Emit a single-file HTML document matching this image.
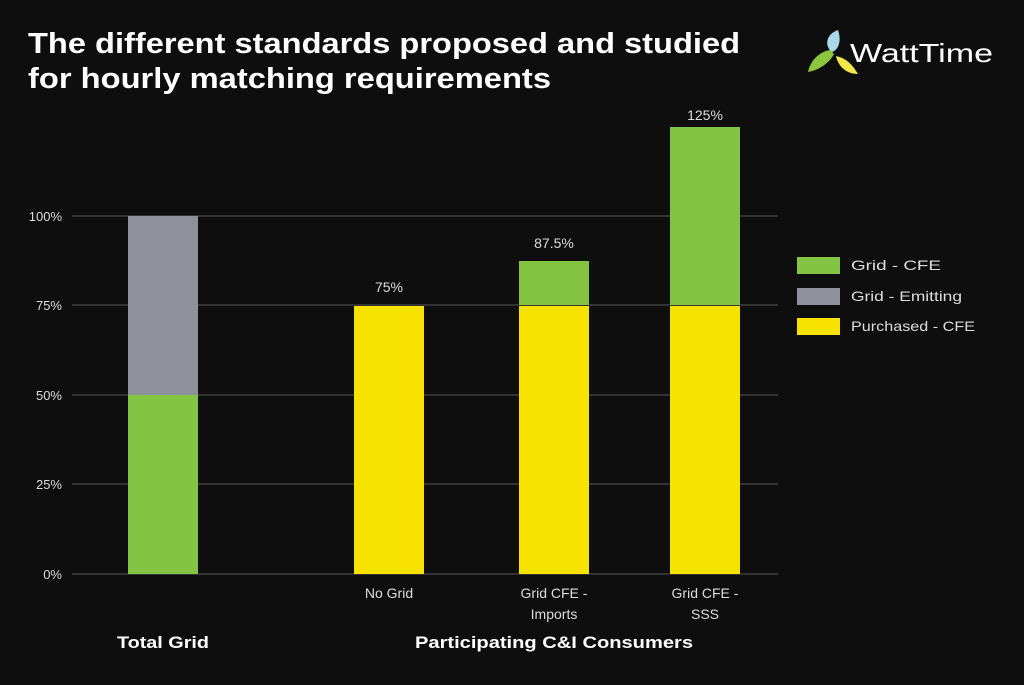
<!DOCTYPE html>
<html><head><meta charset="utf-8"><style>
body{margin:0;background:#0e0e0e;width:1024px;height:680px;overflow:hidden;font-family:"Liberation Sans",sans-serif;}
</style></head><body>
<svg width="1024" height="680" xmlns="http://www.w3.org/2000/svg">
<rect width="1024" height="680" fill="#0e0e0e"/>
<text x="28" y="53" fill="#fff" font-size="29" font-weight="bold" textLength="712" lengthAdjust="spacingAndGlyphs">The different standards proposed and studied</text>
<text x="28" y="88" fill="#fff" font-size="29" font-weight="bold" textLength="523" lengthAdjust="spacingAndGlyphs">for hourly matching requirements</text>
<g>
<path d="M838 30 C826 34 824 46 832 52 C838 50 842 42 838 30Z" fill="#a9d8e8"/>
<path d="M830 50 C818 52 810 62 808 72 C820 70 830 62 834 54Z" fill="#8cc63f"/>
<path d="M836 56 C838 66 846 74 858 74 C852 64 846 58 836 56Z" fill="#f1e64a"/>
<text x="850" y="62" fill="#fff" font-size="26" textLength="143" lengthAdjust="spacingAndGlyphs">WattTime</text>
</g>
<g stroke="#333" stroke-width="2">
<line x1="72" y1="216" x2="778" y2="216"/><line x1="72" y1="305" x2="778" y2="305"/>
<line x1="72" y1="395" x2="778" y2="395"/><line x1="72" y1="484" x2="778" y2="484"/>
<line x1="72" y1="574" x2="778" y2="574"/>
</g>
<g fill="#ddd" font-size="13" text-anchor="end">
<text x="62" y="221">100%</text><text x="62" y="310">75%</text><text x="62" y="400">50%</text><text x="62" y="489">25%</text><text x="62" y="579">0%</text>
</g>
<rect x="128" y="216" width="70" height="179" fill="#8e909b"/>
<rect x="128" y="395" width="70" height="179" fill="#84c443"/>
<rect x="354" y="306" width="70" height="268" fill="#f8e200"/>
<rect x="519" y="261" width="70" height="44" fill="#84c443"/>
<rect x="519" y="306" width="70" height="268" fill="#f8e200"/>
<rect x="670" y="127" width="70" height="178" fill="#84c443"/>
<rect x="670" y="306" width="70" height="268" fill="#f8e200"/>
<g fill="#ddd" font-size="14" text-anchor="middle">
<text x="389" y="292">75%</text><text x="554" y="248">87.5%</text><text x="705" y="120">125%</text>
<text x="389" y="598">No Grid</text>
<text x="554" y="598">Grid CFE -</text><text x="554" y="619">Imports</text>
<text x="705" y="598">Grid CFE -</text><text x="705" y="619">SSS</text>
</g>
<g fill="#fff" font-size="17" font-weight="bold">
<text x="117" y="648" textLength="92" lengthAdjust="spacingAndGlyphs">Total Grid</text><text x="415" y="648" textLength="278" lengthAdjust="spacingAndGlyphs">Participating C&amp;I Consumers</text>
</g>
<rect x="797" y="257" width="43" height="17" fill="#84c443"/>
<rect x="797" y="288" width="43" height="17" fill="#8e909b"/>
<rect x="797" y="318" width="43" height="17" fill="#f8e200"/>
<g fill="#ddd" font-size="14">
<text x="851" y="270" textLength="90" lengthAdjust="spacingAndGlyphs">Grid - CFE</text><text x="851" y="301" textLength="111" lengthAdjust="spacingAndGlyphs">Grid - Emitting</text><text x="851" y="331" textLength="124" lengthAdjust="spacingAndGlyphs">Purchased - CFE</text>
</g>
</svg>
</body></html>
